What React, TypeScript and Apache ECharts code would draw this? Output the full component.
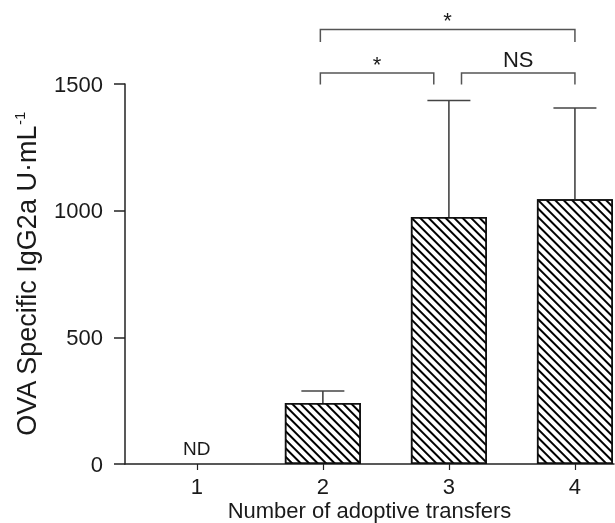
import React, { useEffect, useRef } from "react";
import * as echarts from "echarts";

// ---- data ----
const categories = [1, 2, 3, 4];
const meanValues: (number | null)[] = [null, 241, 975, 1045];
const errorUpper: (number | null)[] = [null, 288, 1435, 1405];
const categoryNotes = ["ND", "", "", ""];
const yTicks = [0, 500, 1000, 1500];

// significance brackets (data space)
const bracketStart = [1.98, 1.98, 3.1];
const bracketEnd = [4, 2.88, 4];
const bracketTop = [1715, 1543, 1543];
const bracketFoot = [1666, 1498, 1498];
const bracketLabels = ["*", "*", "NS"];

const FONT = '"Liberation Sans", Arial, Helvetica, sans-serif';
const TEXT = "#1a1a1a";
const LINE = "#222";

export default function App() {
  const ref = useRef<HTMLDivElement>(null);

  useEffect(() => {
    if (!ref.current) return;
    const chart = echarts.init(ref.current, undefined, { renderer: "svg" });

    const barData = categories.map((c, i) => [c, meanValues[i]]);
    const errData = categories
      .map((c, i) => [c, meanValues[i], errorUpper[i]])
      .filter((d) => d[2] != null);
    const noteData = categories
      .map((c, i) => [c, 0, i])
      .filter((d) => categoryNotes[d[2] as number] !== "");
    const bracketData = bracketStart.map((s, i) => [s, bracketEnd[i], bracketTop[i], bracketFoot[i], i]);

    const option: any = {
      animation: false,
      grid: { left: 125, right: 1, top: 84, bottom: 59, containLabel: false, outerBoundsMode: "none" },
      xAxis: {
        type: "value",
        min: 0.43,
        max: 4.31,
        splitLine: { show: false },
        axisLine: { show: true, lineStyle: { color: LINE, width: 1.5 } },
        axisTick: { show: true, customValues: categories, length: 6, lineStyle: { color: LINE, width: 1.2 } },
        axisLabel: {
          customValues: categories,
          margin: 12,
          fontSize: 22,
          lineHeight: 20,
          fontFamily: FONT,
          color: TEXT,
          formatter: (v: number) => String(v),
        },
        name: "Number of adoptive transfers",
        nameLocation: "middle",
        nameGap: 35,
        nameMoveOverlap: false,
        nameTextStyle: { fontSize: 22, lineHeight: 22, fontFamily: FONT, color: TEXT },
      },
      yAxis: {
        type: "value",
        min: 0,
        max: 1500,
        interval: 500,
        splitLine: { show: false },
        axisLine: { show: true, lineStyle: { color: LINE, width: 1.5 } },
        axisTick: { show: true, length: 11, lineStyle: { color: LINE, width: 1.5 } },
        axisLabel: {
          customValues: yTicks,
          margin: 22,
          fontSize: 22,
          fontFamily: FONT,
          color: TEXT,
          formatter: (v: number) => String(v),
        },
        name: "OVA Specific IgG2a U·mL{sup|-1}",
        nameLocation: "middle",
        nameGap: 83,
        nameMoveOverlap: false,
        nameTextStyle: {
          fontSize: 27,
          fontFamily: FONT,
          color: TEXT,
          rich: {
            sup: { fontSize: 15, fontFamily: FONT, color: TEXT, verticalAlign: "top", lineHeight: 30 },
          },
        },
      },
      series: [
        {
          type: "bar",
          data: barData,
          barWidth: 76,
          itemStyle: {
            color: "#ffffff",
            borderColor: "#111",
            borderWidth: 1.5,
            decal: {
              symbol: "rect",
              symbolSize: 1,
              color: "#000",
              backgroundColor: "#ffffff",
              dashArrayX: [1, 0],
              dashArrayY: [2, 4],
              rotation: Math.PI / 4,
            },
          },
          z: 2,
        },
        {
          type: "custom",
          data: errData,
          encode: { x: 0, y: [1, 2] },
          clip: false,
          z: 3,
          renderItem: (params: any, api: any) => {
            const x = api.value(0);
            const lo = api.coord([x, api.value(1)]);
            const hi = api.coord([x, api.value(2)]);
            const half = 21.5;
            const st = { stroke: "#444", lineWidth: 1.6 };
            return {
              type: "group",
              children: [
                { type: "line", shape: { x1: lo[0], y1: lo[1], x2: hi[0], y2: hi[1] }, style: st },
                { type: "line", shape: { x1: hi[0] - half, y1: hi[1], x2: hi[0] + half, y2: hi[1] }, style: st },
              ],
            };
          },
        },
        {
          type: "custom",
          data: noteData,
          encode: { x: 0, y: 1 },
          clip: false,
          z: 3,
          renderItem: (params: any, api: any) => {
            const p = api.coord([api.value(0), api.value(1)]);
            const idx = api.value(2);
            return {
              type: "text",
              x: p[0],
              y: p[1] - 16,
              style: {
                text: categoryNotes[idx],
                fontSize: 19,
                fontFamily: FONT,
                fill: TEXT,
                align: "center",
                verticalAlign: "middle",
              },
            };
          },
        },
        {
          type: "custom",
          data: bracketData,
          encode: { x: [0, 1], y: [2, 3] },
          clip: false,
          z: 3,
          renderItem: (params: any, api: any) => {
            const i = api.value(4);
            const a = api.coord([api.value(0), api.value(2)]);
            const b = api.coord([api.value(1), api.value(3)]);
            const label = bracketLabels[i];
            const isStar = label === "*";
            return {
              type: "group",
              children: [
                {
                  type: "polyline",
                  shape: { points: [[a[0], b[1]], [a[0], a[1]], [b[0], a[1]], [b[0], b[1]]] },
                  style: { stroke: "#555", lineWidth: 1.5, fill: "none" },
                },
                {
                  type: "text",
                  x: (a[0] + b[0]) / 2,
                  y: a[1] - (isStar ? 9 : 14),
                  style: {
                    text: label,
                    fontSize: 22,
                    fontFamily: FONT,
                    fill: TEXT,
                    align: "center",
                    verticalAlign: "middle",
                  },
                },
              ],
            };
          },
        },
      ],
    };

    chart.setOption(option);
    return () => chart.dispose();
  }, []);

  return (
    <div
      ref={ref}
      style={{ position: "fixed", left: 0, top: 0, width: 615, height: 523 }}
    />
  );
}
